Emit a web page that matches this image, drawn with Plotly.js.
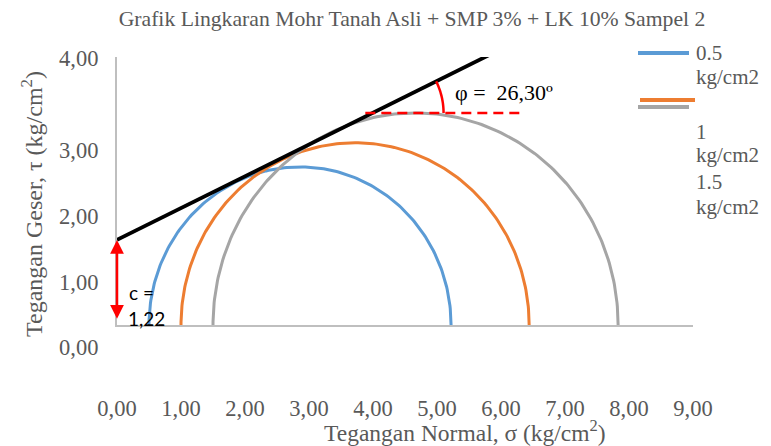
<!DOCTYPE html>
<html>
<head>
<meta charset="utf-8">
<script src="https://cdn.plot.ly/plotly-3.0.1.min.js"></script>
<style>html,body{margin:0;padding:0;background:#fff;}#chart{width:771px;height:446px;}</style>
</head>
<body>
<div id="chart"></div>
<script>
// ---- data ----
const seriesNames = ["0.5 kg/cm2", "1 kg/cm2", "1.5 kg/cm2"];
const sigma3 = [0.5, 1.0, 1.5];      // minor principal stress (left end of each circle)
const sigma1 = [5.22, 6.44, 7.83];   // major principal stress (right end of each circle)
const envX = [0, 5.9];               // failure envelope
const envY = [1.27, 4.07];
const cohesionText = "1,22";
const phiText = "26,30º";
const arrowY = [0.07, 1.27];         // red double arrow for c
const dashX = [3.88, 6.3];           // red dashed horizontal reference
const xTickVals = [0, 1, 2, 3, 4, 5, 6, 7, 8, 9];
const xTickText = ["0,00", "1,00", "2,00", "3,00", "4,00", "5,00", "6,00", "7,00", "8,00", "9,00"];
const yTickVals = [0, 1, 2, 3, 4];
const yTickText = ["0,00", "1,00", "2,00", "3,00", "4,00"];

// ---- styles ----
const colors = ["#5B9BD5", "#ED7D31", "#A5A5A5"];
const serif = "Liberation Serif, Times New Roman, serif";
const grayText = "#595959";
const yLabelShift = [-22, -24, -25, -26, -1];

// semicircles built from principal stresses
const traces = sigma3.map((s3, i) => {
  const c = (s3 + sigma1[i]) / 2, r = (sigma1[i] - s3) / 2;
  const xs = [], ys = [];
  for (let k = 0; k <= 180; k++) {
    const t = Math.PI * k / 180;
    xs.push(c + r * Math.cos(t));
    ys.push(r * Math.sin(t));
  }
  return {x: xs, y: ys, type: "scatter", mode: "lines", name: seriesNames[i],
          line: {color: colors[i], width: 3}, showlegend: false, hoverinfo: "skip"};
});
traces.push({x: envX, y: envY, type: "scatter", mode: "lines", line: {color: "#000", width: 3.8},
             showlegend: false, hoverinfo: "skip"});

// tau max of the largest circle for the dashed reference line
const tauTop = (sigma1[2] - sigma3[2]) / 2;

// plot-area geometry (pixels) for paper conversions
const L = 117, R = 693, T = 57, B = 325;
const px = v => (v - L) / (R - L);
const py = v => (B - v) / (B - T);

// arc for phi, centred where envelope meets the dashed line
const slope = (envY[1] - envY[0]) / (envX[1] - envX[0]);
const arcCx = envX[0] + (tauTop - envY[0]) / slope;
const xScale = (R - L) / 9, yScale = (B - T) / 4;
const angPx = Math.atan(slope * yScale / xScale);
const arcR = 71;
let arcPath = "";
for (let k = 0; k <= 30; k++) {
  const a = angPx * k / 30;
  const xx = arcCx + arcR * Math.cos(a) / xScale;
  const yy = tauTop + arcR * Math.sin(a) / yScale;
  arcPath += (k === 0 ? "M" : "L") + xx + "," + yy;
}

const shapes = [
  {type: "line", xref: "x", yref: "y", x0: dashX[0], x1: dashX[1], y0: tauTop, y1: tauTop,
   line: {color: "#FF0000", width: 2.5, dash: "10px,6px"}},
  {type: "path", xref: "x", yref: "y", path: arcPath, line: {color: "#FF0000", width: 2.5}}
];

// custom legend (Excel-style layout)
const legLines = [[638, 689, 53], [640, 695, 100], [638, 689, 107]];
legLines.forEach((l, i) => shapes.push({type: "line", xref: "paper", yref: "paper",
  x0: px(l[0]), x1: px(l[1]), y0: py(l[2]), y1: py(l[2]), line: {color: colors[i], width: 4}}));

const annotations = [];
const legTextY = [[53, 77], [132, 155], [182, 207]];
seriesNames.forEach((nm, i) => {
  const parts = nm.split(" ");
  parts.forEach((p, j) => annotations.push({xref: "paper", yref: "paper", x: px(694), y: py(legTextY[i][j]),
    xanchor: "left", yanchor: "middle", text: p, showarrow: false,
    font: {family: serif, size: 21, color: grayText}}));
});

// y tick labels
yTickVals.forEach((v, i) => annotations.push({xref: "paper", yref: "y", x: 0, y: v, xshift: -17,
  yshift: yLabelShift[i], xanchor: "right", yanchor: "middle", text: yTickText[i], showarrow: false,
  font: {family: serif, size: 22.5, color: grayText}}));

// axis titles
annotations.push({xref: "paper", yref: "paper", x: px(465), y: py(431), xanchor: "center", yanchor: "middle",
  text: "Tegangan Normal, σ (kg/cm<sup>2</sup>)", showarrow: false, font: {family: serif, size: 23.5, color: grayText}});
annotations.push({xref: "paper", yref: "paper", x: px(32), y: py(204), xanchor: "center", yanchor: "middle",
  textangle: -90, text: "Tegangan Geser, τ (kg/cm<sup>2</sup>)", showarrow: false,
  font: {family: serif, size: 24, color: grayText}});

// c arrow and labels
annotations.push({xref: "x", yref: "y", axref: "x", ayref: "y", x: 0, y: arrowY[1], ax: 0, ay: arrowY[0],
  text: "", showarrow: true, arrowhead: 2, startarrowhead: 2, arrowside: "end+start",
  arrowsize: 1.1, startarrowsize: 1.1, arrowwidth: 2.5, arrowcolor: "#FF0000", standoff: 0, startstandoff: 0});
annotations.push({xref: "paper", yref: "paper", x: px(127), y: py(292), xanchor: "left", yanchor: "middle",
  text: "c =", showarrow: false, font: {family: "Lato, Liberation Sans, sans-serif", size: 19, color: "#000"}});
annotations.push({xref: "paper", yref: "paper", x: px(126), y: py(318), xanchor: "left", yanchor: "middle",
  text: cohesionText, showarrow: false, font: {family: "Lato, Liberation Sans, sans-serif", size: 19, color: "#000"}});

// phi label
annotations.push({xref: "paper", yref: "paper", x: px(453), y: py(92), xanchor: "left", yanchor: "middle",
  text: "φ =\u00A0\u00A0" + phiText, showarrow: false, font: {family: serif, size: 22, color: "#000"}});

const layout = {
  width: 771, height: 446,
  margin: {l: L, r: 771 - R, t: T, b: 446 - B, pad: 0},
  paper_bgcolor: "#fff", plot_bgcolor: "#fff",
  title: {text: "Grafik Lingkaran Mohr Tanah Asli + SMP 3% + LK 10% Sampel 2",
          x: 412 / 771, xanchor: "center", y: 1 - 18 / 446, yanchor: "middle",
          font: {family: serif, size: 21.7, color: grayText}},
  xaxis: {range: [0, 9], tickvals: xTickVals, ticktext: xTickText, showgrid: false, zeroline: false,
          showline: true, linecolor: "#BFBFBF", linewidth: 2, ticks: "", ticklabelstandoff: 62,
          tickfont: {family: serif, size: 22.5, color: grayText}, fixedrange: true},
  yaxis: {range: [0, 4], showticklabels: false, showgrid: false, zeroline: false,
          showline: true, linecolor: "#BFBFBF", linewidth: 2, ticks: "", fixedrange: true},
  showlegend: false,
  shapes: shapes,
  annotations: annotations
};

Plotly.newPlot("chart", traces, layout, {staticPlot: true, displayModeBar: false});
</script>
</body>
</html>
